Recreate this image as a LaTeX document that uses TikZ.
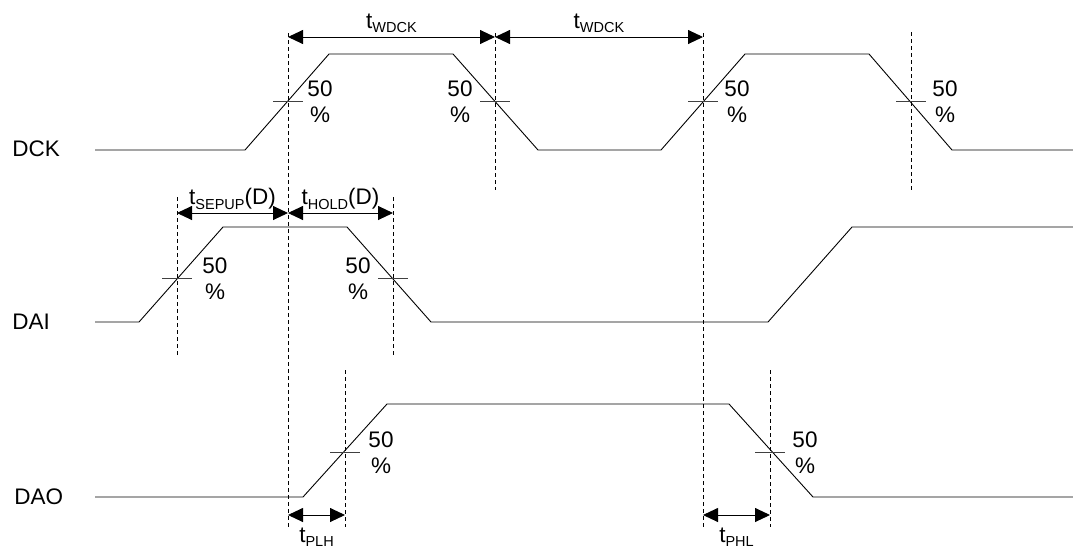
\documentclass[tikz,border=0pt]{standalone}
\usepackage{fontspec}
\setmainfont{Liberation Sans}
\usetikzlibrary{arrows.meta}
\newcommand{\tsub}[1]{t\raisebox{-0.35ex}{\fontsize{14.5}{14.5}\selectfont #1}}

\begin{document}
\begin{tikzpicture}[x=1pt,y=-1pt,line width=0.9pt,
    txt/.style={font=\fontsize{22.5}{26}\selectfont,inner sep=0pt},
    pct/.style={txt,align=center},
    guide/.style={dash pattern=on 4pt off 3pt,line width=0.7pt},
    tick/.style={black!75,line width=0.9pt},
    dim/.style={{Triangle[length=15pt,width=14pt]}-{Triangle[length=15pt,width=14pt]},line width=0.9pt}]
    \useasboundingbox (0,0) rectangle (1073,552);

    % signal names
    \node[txt,anchor=west] (dck) at (12,149) {DCK};
    \node[txt,anchor=west] (dai) at (12,322) {DAI};
    \node[txt,anchor=west] (dao) at (14,497) {DAO};

    % waveforms
    \draw (95,150) -- (245,150) -- (329,54) -- (453,54) -- (538,150) -- (661,150) -- (745,54) -- (869,54) -- (952,150) -- (1073,150);
    \draw (95,322) -- (139,322) -- (223,227) -- (347,227) -- (431,322) -- (768,322) -- (852,227) -- (1073,227);
    \draw (95,497) -- (303,497) -- (387,404) -- (729,404) -- (813,497) -- (1073,497);

    % guide lines
    \draw[guide] (288,33) -- (288,527);
    \draw[guide] (495,33) -- (495,190);
    \draw[guide] (703,33) -- (703,527);
    \draw[guide] (911,32) -- (911,192);
    \draw[guide] (177,197) -- (177,357);
    \draw[guide] (393,197) -- (393,357);
    \draw[guide] (345,370) -- (345,527);
    \draw[guide] (770,370) -- (770,527);

    % 50% marks
    \foreach \x/\y/\dx in {288/101/32, 495/101/-35, 703/101/34, 911/101/34,
                           177/278/38, 393/278/-35, 345/452/36, 770/452/35} {
        \draw[tick] (\x-15,\y) -- (\x+15,\y);
        \node[pct] at (\x+\dx,\y+1) {50\\\%};
    }

    % timing arrows
    \coordinate (wa) at (288,37);
    \coordinate (wb) at (495,37);
    \coordinate (wc) at (703,37);
    \draw[dim] (wa) -- (wb) node[midway,above=4pt,txt] (twdck1) {\tsub{WDCK}};
    \draw[dim] (wb) -- (wc) node[midway,above=4pt,txt] (twdck2) {\tsub{WDCK}};

    \coordinate (sa) at (177,213);
    \coordinate (sb) at (288,213);
    \coordinate (sc) at (393,213);
    \draw[dim] (sa) -- (sb) node[midway,above=3pt,txt] (tsetup) {\tsub{SEPUP}(D)};
    \draw[dim] (sb) -- (sc) node[midway,above=3pt,txt] (thold) {\tsub{HOLD}(D)};

    \coordinate (pa) at (288,515);
    \coordinate (pb) at (345,515);
    \coordinate (pc) at (703,515);
    \coordinate (pd) at (770,515);
    \draw[dim] (pa) -- (pb) node[midway,below=12pt,txt] (tplh) {\tsub{PLH}};
    \draw[dim] (pc) -- (pd) node[midway,below=12pt,txt] (tphl) {\tsub{PHL}};
\end{tikzpicture}
\end{document}
